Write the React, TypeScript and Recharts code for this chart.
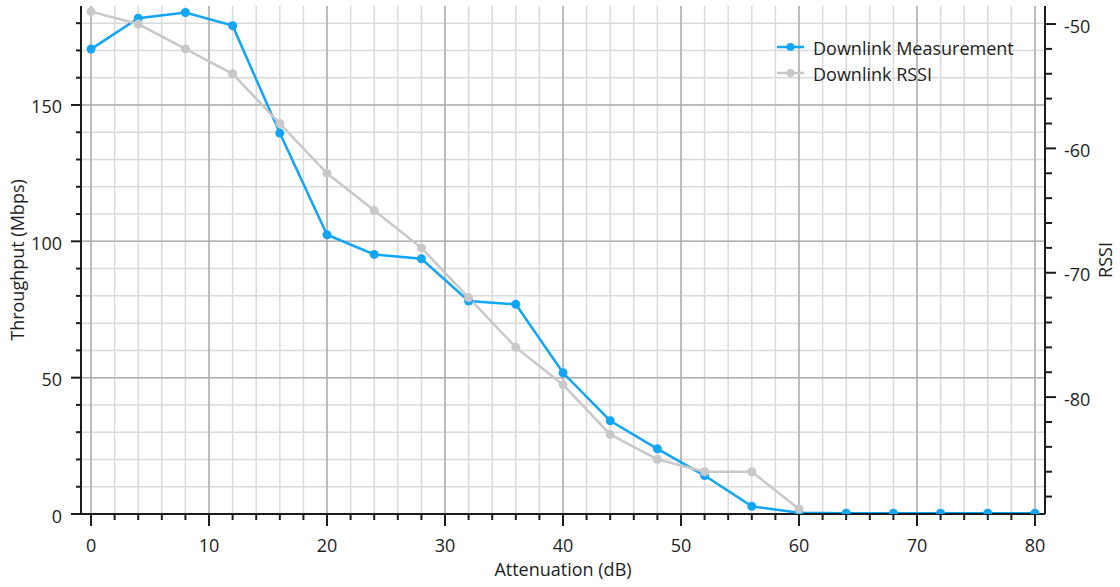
import { LineChart, Line, XAxis, YAxis, CartesianGrid, Legend } from 'recharts'

// attenuation steps (dB)
const ATTENUATION = [0, 4, 8, 12, 16, 20, 24, 28, 32, 36, 40, 44, 48, 52, 56, 60, 64, 68, 72, 76, 80]
// downlink throughput (Mbps)
const THROUGHPUT = [170.5, 181.8, 183.9, 179.1, 139.7, 102.4, 95.2, 93.6, 78.1, 76.9, 51.8, 34.2, 23.9, 14.1, 2.8, 0.5, 0.3, 0.3, 0.3, 0.3, 0.3]
// downlink RSSI (dBm), only measured up to 60 dB
const RSSI = [-49, -50, -52, -54, -58, -62, -65, -68, -72, -76, -79, -83, -85, -86, -86, -89]

const X_TICKS = [0, 2, 4, 6, 8, 10, 12, 14, 16, 18, 20, 22, 24, 26, 28, 30, 32, 34, 36, 38, 40, 42, 44, 46, 48, 50, 52, 54, 56, 58, 60, 62, 64, 66, 68, 70, 72, 74, 76, 78, 80]
const X_MAJOR = [0, 10, 20, 30, 40, 50, 60, 70, 80]
const LEFT_TICKS = [0, 10, 20, 30, 40, 50, 60, 70, 80, 90, 100, 110, 120, 130, 140, 150, 160, 170, 180]
const LEFT_MAJOR = [0, 50, 100, 150]
const RIGHT_TICKS = [-88, -86, -84, -82, -80, -78, -76, -74, -72, -70, -68, -66, -64, -62, -60, -58, -56, -54, -52, -50]
const RIGHT_MAJOR = [-80, -70, -60, -50]

const data = ATTENUATION.map((a, i) => ({
  atten: a,
  throughput: THROUGHPUT[i],
  rssi: i < RSSI.length ? RSSI[i] : null,
}))

const FONT = '"Open Sans", sans-serif'
const TEXT = '#1e1e1e'
const AXIS = '#1c1c1c'
const BLUE = '#12a5f4'
const GREY = '#c8c8c8'

function XTick({ x, y, payload }: any) {
  const major = X_MAJOR.includes(payload.value)
  return (
    <g>
      <line x1={x} x2={x} y1={y} y2={y + (major ? 12 : 6)} stroke={AXIS} strokeWidth={2} />
      {major && (
        <text x={x} y={y + 38} textAnchor="middle" fontSize={18} fontFamily={FONT} fill={TEXT}>
          {payload.value}
        </text>
      )}
    </g>
  )
}

function LeftTick({ x, y, payload }: any) {
  const major = LEFT_MAJOR.includes(payload.value)
  return (
    <g>
      <line x1={x - (major ? 10 : 5)} x2={x} y1={y} y2={y} stroke={AXIS} strokeWidth={2} />
      {major && (
        <text x={x - 19} y={y + 8.5} textAnchor="end" fontSize={18} fontFamily={FONT} fill={TEXT}>
          {payload.value}
        </text>
      )}
    </g>
  )
}

function RightTick({ x, y, payload }: any) {
  const major = RIGHT_MAJOR.includes(payload.value)
  return (
    <g>
      <line x1={x} x2={x + (major ? 11 : 7)} y1={y} y2={y} stroke={AXIS} strokeWidth={2} />
      {major && (
        <text x={x + 19} y={y + 8.5} textAnchor="start" fontSize={18} fontFamily={FONT} fill={TEXT}>
          {payload.value}
        </text>
      )}
    </g>
  )
}

function VerticalTitle({ viewBox, value, offsetX }: any) {
  const vb = viewBox ?? { x: 0, y: 0, width: 0, height: 0 }
  const cx = vb.x + offsetX
  const cy = vb.y + vb.height / 2
  return (
    <text x={cx} y={cy} transform={`rotate(-90 ${cx} ${cy})`} textAnchor="middle" fontSize={18} fontFamily={FONT} fill={TEXT}>
      {value}
    </text>
  )
}

function BottomTitle({ viewBox, value }: any) {
  const vb = viewBox ?? { x: 0, y: 0, width: 0, height: 0 }
  return (
    <text x={vb.x + vb.width / 2} y={vb.y + 62} textAnchor="middle" fontSize={18} fontFamily={FONT} fill={TEXT}>
      {value}
    </text>
  )
}

function LegendBox({ payload }: any) {
  return (
    <div style={{ fontFamily: FONT, fontSize: 18, color: TEXT }}>
      {(payload ?? []).map((item: any) => (
        <div key={item.value} style={{ display: 'flex', alignItems: 'flex-start', height: 25.5 }}>
          <svg width={36} height={25.5} style={{ display: 'block' }}>
            <line x1={0} x2={27} y1={11} y2={11} stroke={item.color} strokeWidth={2.5} />
            <circle cx={13.5} cy={11} r={4} fill={item.color} />
          </svg>
          <span style={{ lineHeight: '25.5px', whiteSpace: 'nowrap' }}>{item.value}</span>
        </div>
      ))}
    </div>
  )
}

export default function App() {
  return (
    <div style={{ position: 'absolute', left: 0, top: 0, background: '#fff' }}>
      <LineChart width={1120} height={587} data={data} margin={{ top: 6, right: 0, bottom: 0, left: 0 }}>
        <CartesianGrid
          yAxisId="left"
          stroke="#dadada"
          strokeWidth={1.5}
          verticalValues={X_TICKS}
          horizontalValues={LEFT_TICKS}
        />
        <CartesianGrid
          yAxisId="left"
          stroke="#afafaf"
          strokeWidth={1.5}
          verticalValues={X_MAJOR}
          horizontalValues={LEFT_MAJOR}
        />
        <XAxis
          dataKey="atten"
          type="number"
          domain={[-0.85, 80.85]}
          allowDataOverflow
          ticks={X_TICKS}
          interval={0}
          height={73}
          tickSize={0}
          tickMargin={0}
          tickLine={false}
          tick={<XTick />}
          axisLine={{ stroke: AXIS, strokeWidth: 2 }}
          label={<BottomTitle value="Attenuation (dB)" />}
        />
        <XAxis
          xAxisId="top"
          dataKey="atten"
          type="number"
          orientation="top"
          domain={[-0.85, 80.85]}
          height={0}
          tick={false}
          tickLine={false}
          axisLine={{ stroke: AXIS, strokeWidth: 2 }}
        />
        <YAxis
          yAxisId="left"
          type="number"
          domain={[0, 186.3]}
          allowDataOverflow
          ticks={LEFT_TICKS}
          interval={0}
          width={81}
          tickSize={0}
          tickMargin={0}
          tickLine={false}
          tick={<LeftTick />}
          axisLine={{ stroke: AXIS, strokeWidth: 2 }}
          label={<VerticalTitle value="Throughput (Mbps)" offsetX={24} />}
        />
        <YAxis
          yAxisId="right"
          orientation="right"
          type="number"
          domain={[-89.4, -48.55]}
          allowDataOverflow
          ticks={RIGHT_TICKS}
          interval={0}
          width={75}
          tickSize={0}
          tickMargin={0}
          tickLine={false}
          tick={<RightTick />}
          axisLine={{ stroke: AXIS, strokeWidth: 2 }}
          label={<VerticalTitle value="RSSI" offsetX={67} />}
        />
        <Legend
          layout="vertical"
          verticalAlign="middle"
          align="center"
          content={<LegendBox />}
          wrapperStyle={{ top: 36, left: 777, width: 'auto', height: 'auto' }}
        />
        <Line
          yAxisId="left"
          name="Downlink Measurement"
          dataKey="throughput"
          stroke={BLUE}
          strokeWidth={2.5}
          dot={{ r: 4.5, fill: BLUE, stroke: BLUE, strokeWidth: 0 }}
          activeDot={false}
          isAnimationActive={false}
        />
        <Line
          yAxisId="right"
          name="Downlink RSSI"
          dataKey="rssi"
          stroke={GREY}
          strokeWidth={2.5}
          dot={{ r: 4.5, fill: GREY, stroke: GREY, strokeWidth: 0 }}
          activeDot={false}
          isAnimationActive={false}
        />
      </LineChart>
    </div>
  )
}
